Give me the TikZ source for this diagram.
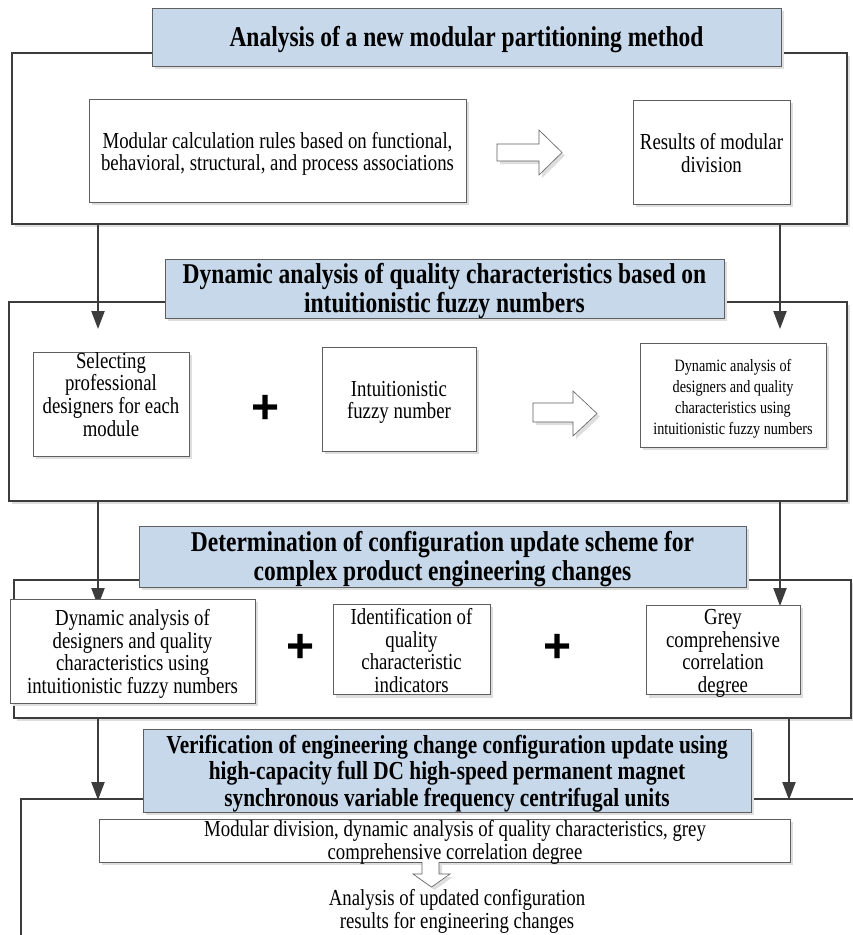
\documentclass[tikz,border=0pt]{standalone}
\usepackage{fontspec}
\usepackage{graphicx}
\setmainfont{Liberation Serif}
\newfontfamily\myplusfont{Liberation Sans}
\usetikzlibrary{shadows,arrows.meta}
\definecolor{titlefill}{RGB}{198,216,234}
\definecolor{lineg}{RGB}{60,60,60}
\definecolor{boxg}{RGB}{95,95,95}
\newcommand\mytitlefont{\fontsize{23.5}{23.8}\selectfont\bfseries}
\newcommand\mytitlefontb{\fontsize{21.3}{21.7}\selectfont\bfseries}
\newcommand\mybodyfont{\fontsize{18.8}{18}\selectfont}
\newcommand\mybodyfontb{\fontsize{18.8}{16.8}\selectfont}
\newcommand\mysmallfont{\fontsize{14.2}{17.2}\selectfont}
\newcommand\myplusstyle{\fontsize{48}{48}\selectfont\myplusfont\bfseries}
\newcommand\tallt[1]{\raisebox{-4pt}[\height][\depth]{\scalebox{1}[1.22]{\begin{tabular}{@{}c@{}}#1\end{tabular}}}}
\tikzset{
  shad/.style={general shadow={fill=black!13, shadow xshift=3pt, shadow yshift=-3pt}},
}
\begin{document}
\begin{tikzpicture}[x=1pt,y=-1pt,
  every node/.style={inner sep=0pt, outer sep=0pt, align=center},
  outerbox/.style={draw=lineg, line width=1.3pt, fill=white, shad},
  innerbox/.style={draw=boxg, line width=0.8pt, fill=white, shad, font=\mybodyfont},
  titlebox/.style={draw=boxg, line width=0.9pt, fill=titlefill, shad, font=\mytitlefont},
  arr/.style={draw=lineg, line width=2.2pt, -{Triangle[length=18pt,width=13pt]}},
  hollow/.style={draw=boxg, line width=0.6pt, fill=white, shad},
  plusnode/.style={font=\myplusstyle}]
\useasboundingbox (0,0) rectangle (853,935);

% outer frames
\node[outerbox, minimum width=835pt, minimum height=171pt] (o1) at (429.5,138.5) {};
\node[outerbox, minimum width=838pt, minimum height=199pt] (o2) at (428,401.5) {};
\node[outerbox, minimum width=837pt, minimum height=138pt] (o3) at (432.5,649) {};
\coordinate (o4r) at (860,799);
\coordinate (o4b) at (21,945);
\draw[lineg, line width=1.3pt] (o4r) -| (o4b);

% vertical connectors
\coordinate (a1l) at (98,329);
\coordinate (a1r) at (780,329);
\coordinate (a2l) at (98,606);
\coordinate (a2r) at (780,606);
\coordinate (a3l) at (98,800);
\coordinate (a3r) at (789,800);
\draw[arr] (o1.south -| a1l) -- (a1l);
\draw[arr] (o1.south -| a1r) -- (a1r);
\draw[arr] (o2.south -| a2l) -- (a2l);
\draw[arr] (o2.south -| a2r) -- (a2r);
\draw[arr] (o3.south -| a3l) -- (a3l);
\draw[arr] (o3.south -| a3r) -- (a3r);

% section 1
\node[titlebox, minimum width=629pt, minimum height=58pt] (t1) at (466.5,37) {\tallt{Analysis of a new modular partitioning method}};
\node[innerbox, font=\mybodyfontb, minimum width=377pt, minimum height=103pt] (b11) at (277.5,150.5) {\tallt{Modular calculation rules based on functional,\\behavioral, structural, and process associations}};
\node[innerbox, font=\mybodyfontb, minimum width=157pt, minimum height=104pt] (b12) at (711.5,152) {\tallt{Results of modular\\division}};
\draw[hollow] (497,144) -- (539,144) -- (539,130) -- (562,152.5) -- (539,175) -- (539,161) -- (497,161) -- cycle;

% section 2
\node[titlebox, minimum width=559pt, minimum height=59pt] (t2) at (444.5,288.5) {\tallt{Dynamic analysis of quality characteristics based on\\intuitionistic fuzzy numbers}};
\node[innerbox, minimum width=156pt, minimum height=104pt] (b21) at (111,404) {};
\node[font=\mybodyfont] (b21t) at (111,393.5) {\tallt{Selecting\\professional\\designers for each\\module}};
\node[plusnode] (p1) at (266,409) {+};
\node[innerbox, minimum width=154pt, minimum height=104pt] (b22) at (399,399) {\tallt{Intuitionistic\\fuzzy number}};
\draw[hollow] (533,403) -- (573,403) -- (573,391) -- (597,413.5) -- (573,436) -- (573,422) -- (533,422) -- cycle;
\node[innerbox, font=\mysmallfont, minimum width=186pt, minimum height=104pt] (b23) at (733,395) {\tallt{Dynamic analysis of\\designers and quality\\characteristics using\\intuitionistic fuzzy numbers}};

% section 3
\node[titlebox, minimum width=607pt, minimum height=61pt] (t3) at (442.5,556.5) {\tallt{Determination of configuration update scheme for\\complex product engineering changes}};
\node[innerbox, minimum width=245pt, minimum height=104pt] (b31) at (132.5,651) {\tallt{Dynamic analysis of\\designers and quality\\characteristics using\\intuitionistic fuzzy numbers}};
\node[plusnode] (p2) at (301,648) {+};
\node[innerbox, minimum width=157pt, minimum height=85pt] (b32) at (411.5,649.5) {\tallt{Identification of\\quality\\characteristic\\indicators}};
\node[plusnode] (p3) at (558,648) {+};
\node[innerbox, minimum width=154pt, minimum height=84pt] (b33) at (723,650) {\tallt{Grey\\comprehensive\\correlation\\degree}};

% section 4
\node[titlebox, font=\mytitlefontb, minimum width=608pt, minimum height=83pt] (t4) at (447,770.5) {\tallt{Verification of engineering change configuration update using\\high-capacity full DC high-speed permanent magnet\\synchronous variable frequency centrifugal units}};
\node[innerbox, minimum width=691pt, minimum height=43pt] (b41) at (444.5,840.5) {};
\node[font=\mybodyfont] (b41t) at (455,839) {\tallt{Modular division, dynamic analysis of quality characteristics, grey\\comprehensive correlation degree}};
\draw[hollow] (422,862) -- (422,874) -- (413,874) -- (431.5,887) -- (450,874) -- (439,874) -- (439,862);
\node[font=\mybodyfont] (res) at (457,908) {\tallt{Analysis of updated configuration\\results for engineering changes}};
\end{tikzpicture}
\end{document}
